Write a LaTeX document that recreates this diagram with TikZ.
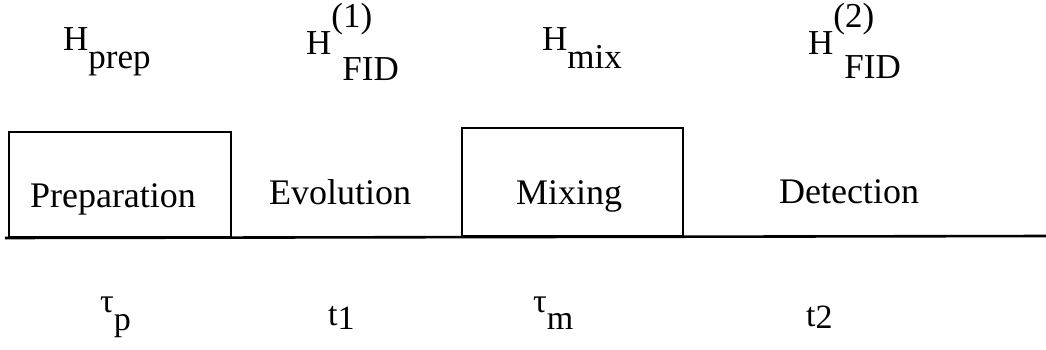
\documentclass[tikz,border=0pt]{standalone}
\usepackage{fontspec}
\setmainfont{Liberation Serif}
\begin{document}
\begin{tikzpicture}[x=1pt,y=-1pt,
  ham/.style={inner sep=0pt, anchor=base west, font=\fontsize{35}{40}\selectfont},
  stage/.style={inner sep=0pt, anchor=base, font=\fontsize{36}{42}\selectfont},
  period/.style={inner sep=0pt, anchor=base west, font=\fontsize{34}{40}\selectfont},
  block/.style={draw, line width=2.2pt, inner sep=0pt, anchor=south west},
  axis/.style={line width=2.6pt}]
\useasboundingbox (0,0) rectangle (1046,349);

% time axis with the two pulse blocks
\coordinate (axL) at (5,238);
\coordinate (axR) at (1046,236);
\draw[axis] (axL) -- (axR);
\node[block, minimum width=222pt, minimum height=105pt] (prepbox) at (8,238) {};
\node[block, minimum width=221pt, minimum height=108pt] (mixbox) at (461,237) {};

% stage names
\node[stage] (prep) at (113,207) {Preparation};
\node[stage] (evol) at (340,204) {Evolution};
\node[stage] (mix)  at (569,204) {Mixing};
\node[stage] (det)  at (849,203) {Detection};

% Hamiltonians acting in each stage
\node[ham] (hprep) at (63,50) {H\raisebox{-18pt}{prep}};
\node[ham] (hfid1) at (306,54) {H\rlap{\raisebox{27pt}{(1)}}\hspace{11pt}\raisebox{-26pt}{FID}};
\node[ham] (hmix)  at (542,50) {H\raisebox{-18pt}{mix}};
\node[ham] (hfid2) at (808,54) {H\rlap{\raisebox{27pt}{(2)}}\hspace{11pt}\raisebox{-24pt}{FID}};

% durations
\node[period] (taup) at (100,312) {τ\raisebox{-18pt}{p}};
\node[period] (tone) at (328,325) {t\raisebox{-4pt}{1}};
\node[period] (taum) at (533,312) {τ\raisebox{-17pt}{m}};
\node[period] (ttwo) at (806,326) {t\raisebox{-2pt}{2}};
\end{tikzpicture}
\end{document}
